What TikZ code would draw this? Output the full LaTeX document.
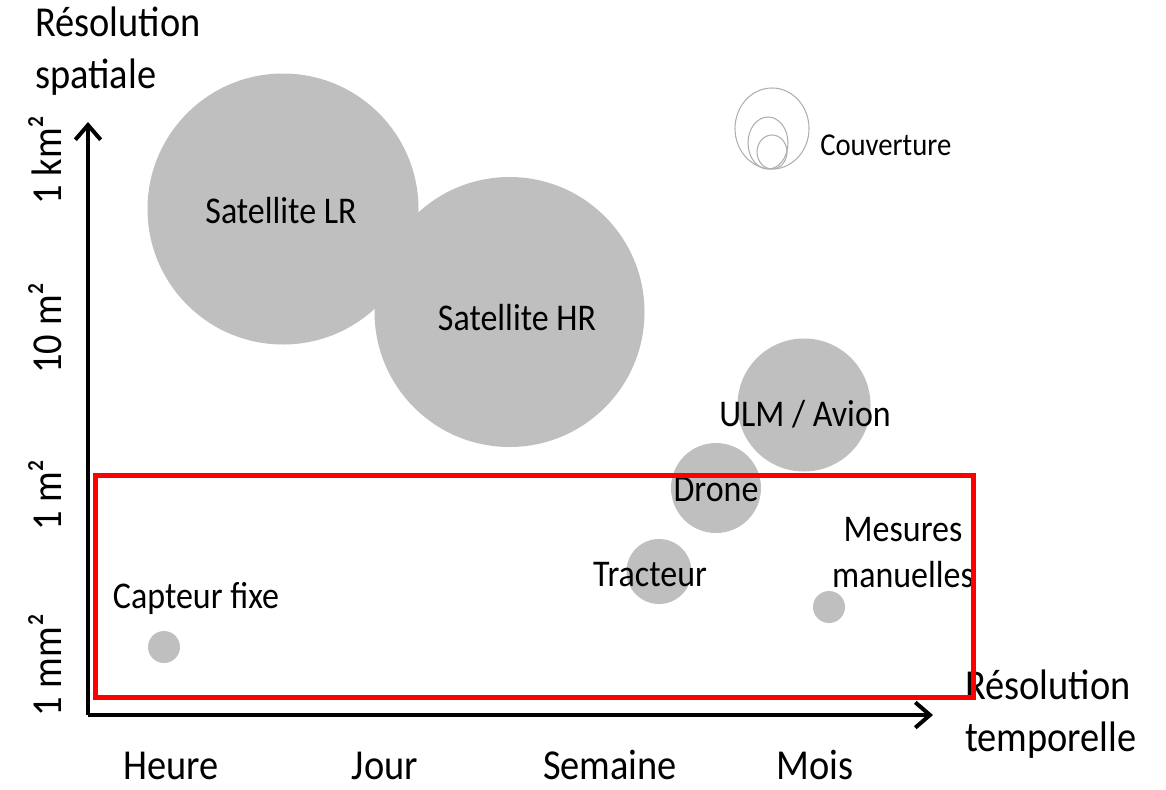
\documentclass[tikz,border=0pt]{standalone}
\usepackage{fontspec}
% Calibri-metric face, slightly condensed so that letters run tall
\setmainfont{Carlito}[FakeStretch=0.9]
\usetikzlibrary{arrows.meta}
\definecolor{bubblegray}{RGB}{191,191,191}
\definecolor{legendgray}{RGB}{175,175,175}
\definecolor{framered}{RGB}{255,0,0}

\begin{document}
\begin{tikzpicture}[x=0.75pt,y=-0.75pt,
  bubble/.style={circle, fill=bubblegray, draw=none, inner sep=0pt, minimum size={0.75pt*#1}},
  lbl/.style={font=\fontsize{28.3}{34.5}\selectfont, inner sep=0pt},
  axlbl/.style={font=\fontsize{32}{38.5}\selectfont, inner sep=0pt},
  leglbl/.style={font=\fontsize{23.9}{28}\selectfont, inner sep=0pt},
  axisline/.style={line width=3pt, -{Straight Barb[length=11pt,width=19pt,line width=3pt]}},
  legendring/.style={draw=legendgray, line width=0.8pt},
  zonebox/.style={draw=framered, line width=3.75pt}
]
\useasboundingbox (0,0) rectangle (1166,789);

% bubbles: diameter in px
\node[bubble=271] (satlr) at (283,209) {};
\node[bubble=270] (sathr) at (509.5,312) {};
\node[bubble=133] (ulm) at (804,405) {};
\node[bubble=90]  (drone) at (716,488) {};
\node[bubble=65]  (tracteur) at (659,571.5) {};
\node[bubble=32]  (mesures) at (829,607) {};
\node[bubble=32]  (capteur) at (164,647) {};

% bubble labels
\node[lbl] (tsatlr) at (281,211) {Satellite LR};
\node[lbl] (tsathr) at (517,318) {Satellite HR};
\node[lbl] (tulm) at (805,414) {ULM / Avion};
\node[lbl] (tdrone) at (716,490) {Drone};
\node[lbl] (ttracteur) at (650,575) {Tracteur};
\node[lbl, align=center] (tmesures) at (903,553) {Mesures\\manuelles};
\node[lbl] (tcapteur) at (196,598) {Capteur fixe};

% coverage legend
\draw[legendring] (772,128.5) ellipse [x radius=37, y radius=40.5];
\draw[legendring] (768,143) ellipse [x radius=20, y radius=26];
\draw[legendring] (772,152) ellipse [x radius=15, y radius=17];
\node[leglbl, anchor=west] (tcouv) at (820,145) {Couverture};

% axes
\coordinate (origin) at (88,715);
\coordinate (ytip) at (88,122);
\coordinate (xtip) at (933,715);
\draw[axisline] (origin) -- (ytip);
\draw[axisline] (origin) -- (xtip);

% axis titles (anchored on the baseline of their second line)
\node[axlbl, align=left, anchor=base west] (ytitle) at (35,88) {Résolution\\spatiale};
\node[axlbl, align=left, anchor=base west] (xtitle) at (965,751) {Résolution\\temporelle};

% y tick labels
\node[axlbl, rotate=90] (y1) at (45,160) {1 km²};
\node[axlbl, rotate=90] (y2) at (45,328) {10 m²};
\node[axlbl, rotate=90] (y3) at (45,495) {1 m²};
\node[axlbl, rotate=90] (y4) at (45,665) {1 mm²};

% x tick labels
\node[axlbl, anchor=base] (x1) at (171,779) {Heure};
\node[axlbl, anchor=base] (x2) at (385,779) {Jour};
\node[axlbl, anchor=base] (x3) at (610,779) {Semaine};
\node[axlbl, anchor=base] (x4) at (815,779) {Mois};

% highlighted zone
\draw[zonebox] (95,475) rectangle (973,697);
\end{tikzpicture}
\end{document}
